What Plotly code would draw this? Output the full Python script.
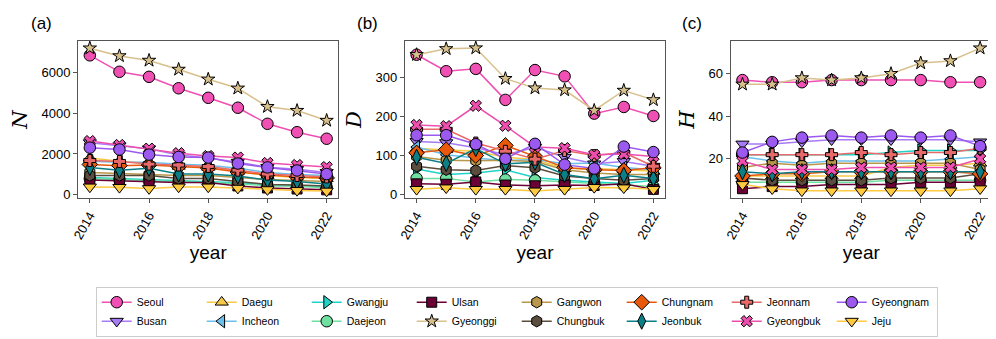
import plotly.graph_objects as go
from plotly.subplots import make_subplots

years = [2014, 2015, 2016, 2017, 2018, 2019, 2020, 2021, 2022]
regions = ["Seoul", "Busan", "Daegu", "Incheon", "Gwangju", "Daejeon", "Ulsan", "Gyeonggi",
           "Gangwon", "Chungbuk", "Chungnam", "Jeonbuk", "Jeonnam", "Gyeongbuk", "Gyeongnam", "Jeju"]

N_vals = {
    "Seoul":     [6820, 6015, 5770, 5210, 4745, 4260, 3475, 3065, 2745],
    "Busan":     [2550, 2400, 2250, 1950, 1800, 1600, 1350, 1250, 1100],
    "Daegu":     [1800, 1650, 1550, 1400, 1350, 1150, 950, 850, 800],
    "Incheon":   [1650, 1600, 1600, 1500, 1450, 1300, 1100, 1000, 950],
    "Gwangju":   [850, 800, 780, 700, 650, 600, 500, 450, 400],
    "Daejeon":   [800, 750, 700, 650, 600, 550, 450, 420, 350],
    "Ulsan":     [730, 690, 640, 610, 610, 440, 340, 290, 250],
    "Gyeonggi":  [7170, 6790, 6570, 6130, 5650, 5210, 4310, 4120, 3635],
    "Gangwon":   [1100, 1050, 1000, 950, 950, 850, 750, 700, 650],
    "Chungbuk":  [950, 950, 950, 800, 800, 660, 510, 480, 440],
    "Chungnam":  [1490, 1430, 1460, 1390, 1310, 1120, 980, 880, 830],
    "Jeonbuk":   [1340, 1210, 1300, 1020, 1020, 920, 730, 660, 540],
    "Jeonnam":   [1680, 1635, 1505, 1460, 1390, 1210, 1020, 950, 880],
    "Gyeongbuk": [2630, 2440, 2260, 2040, 1900, 1825, 1560, 1460, 1360],
    "Gyeongnam": [2310, 2220, 1970, 1855, 1825, 1535, 1345, 1195, 1020],
    "Jeju":      [390, 370, 310, 390, 390, 330, 260, 220, 190],
}

D_vals = {
    "Seoul":     [357, 315, 321, 242, 318, 302, 207, 224, 201],
    "Busan":     [136, 133, 120, 102, 121, 96, 79, 85, 73],
    "Daegu":     [118, 115, 111, 96, 90, 67, 67, 64, 60],
    "Incheon":   [122, 102, 94, 87, 90, 79, 81, 70, 64],
    "Gwangju":   [66, 52, 56, 64, 44, 37, 33, 29, 37],
    "Daejeon":   [42, 42, 33, 39, 37, 33, 29, 25, 21],
    "Ulsan":     [28, 27, 33, 25, 23, 25, 24, 28, 14],
    "Gyeonggi":  [357, 372, 374, 296, 272, 267, 215, 266, 242],
    "Gangwon":   [98, 88, 87, 88, 85, 64, 56, 52, 52],
    "Chungbuk":  [73, 64, 62, 75, 69, 48, 42, 37, 42],
    "Chungnam":  [107, 115, 100, 126, 98, 70, 64, 62, 69],
    "Jeonbuk":   [96, 80, 118, 79, 83, 52, 41, 50, 42],
    "Jeonnam":   [167, 167, 132, 111, 91, 113, 100, 108, 73],
    "Gyeongbuk": [178, 175, 227, 176, 122, 119, 102, 104, 98],
    "Gyeongnam": [152, 152, 129, 92, 130, 77, 67, 123, 109],
    "Jeju":      [14, 18, 14, 14, 10, 14, 19, 18, 14],
}

H_vals = {
    "Seoul":     [57, 56, 56, 57, 57, 57, 57, 56, 56],
    "Busan":     [27, 27, 28, 29, 29, 29, 29, 29, 28],
    "Daegu":     [12, 12, 12, 12, 12, 16, 17, 17, 18],
    "Incheon":   [21, 19, 18, 19, 19, 19, 19, 20, 21],
    "Gwangju":   [22, 22, 22, 22, 22, 23, 24, 24, 24],
    "Daejeon":   [9, 9, 9, 9, 9, 10, 10, 10, 10],
    "Ulsan":     [6, 7, 7, 8, 8, 8, 9, 9, 9],
    "Gyeonggi":  [55, 55, 58, 57, 58, 60, 65, 66, 72],
    "Gangwon":   [16, 18, 17, 18, 18, 18, 18, 18, 15],
    "Chungbuk":  [11, 10, 10, 10, 10, 11, 11, 11, 13],
    "Chungnam":  [12, 13, 13, 14, 14, 14, 14, 14, 13],
    "Jeonbuk":   [14, 13, 14, 14, 14, 14, 14, 14, 14],
    "Jeonnam":   [22, 22, 22, 22, 23, 22, 23, 23, 25],
    "Gyeongbuk": [19, 15, 15, 15, 16, 16, 16, 16, 20],
    "Gyeongnam": [23, 28, 30, 31, 30, 31, 30, 31, 26],
    "Jeju":      [8, 6, 5, 5, 5, 5, 5, 5, 6],
}

colors = {
    "Seoul": "#f04fb3", "Busan": "#a77bf3", "Daegu": "#f7c948", "Incheon": "#6cbfea",
    "Gwangju": "#1fd3c6", "Daejeon": "#6fe0a0", "Ulsan": "#6a0035", "Gyeonggi": "#d8c08c",
    "Gangwon": "#b8964a", "Chungbuk": "#5b4d3e", "Chungnam": "#e8590c", "Jeonbuk": "#0b7f86",
    "Jeonnam": "#e86a6a", "Gyeongbuk": "#ee4fae", "Gyeongnam": "#9b59f0", "Jeju": "#ffc940",
}
symbols = {
    "Seoul": "circle", "Busan": "triangle-down", "Daegu": "triangle-up", "Incheon": "triangle-left",
    "Gwangju": "triangle-right", "Daejeon": "circle", "Ulsan": "square", "Gyeonggi": "star",
    "Gangwon": "hexagon", "Chungbuk": "hexagon", "Chungnam": "diamond", "Jeonbuk": "diamond-tall",
    "Jeonnam": "cross", "Gyeongbuk": "x", "Gyeongnam": "circle", "Jeju": "triangle-down",
}
sizes = {"Gyeonggi": 10, "Ulsan": 10, "Jeonnam": 10, "Gyeongbuk": 10, "Chungnam": 12}
# legend order: matplotlib fills columns; plotly fills rows
legend_rank = {
    "Seoul": 1, "Daegu": 2, "Gwangju": 3, "Ulsan": 4, "Gangwon": 5, "Chungnam": 6, "Jeonnam": 7, "Gyeongnam": 8,
    "Busan": 9, "Incheon": 10, "Daejeon": 11, "Gyeonggi": 12, "Chungbuk": 13, "Jeonbuk": 14, "Gyeongbuk": 15, "Jeju": 16,
}

panels = [("N", N_vals), ("D", D_vals), ("H", H_vals)]
y_ranges = [[-150, 7520], [-8, 392], [1.65, 75.35]]
y_ticks = [[0, 2000, 4000, 6000], [0, 100, 200, 300], [20, 40, 60]]
panel_labels = ["(a)", "(b)", "(c)"]

fig = make_subplots(rows=1, cols=3)

for ci, (ylab, vals) in enumerate(panels):
    for r in regions:
        fig.add_trace(go.Scatter(
            x=years, y=vals[r], name=r, mode="lines+markers",
            line=dict(color=colors[r], width=1.5),
            marker=dict(symbol=symbols[r], size=sizes.get(r, 11.5), color=colors[r],
                        line=dict(color="black", width=1)),
            showlegend=(ci == 0), legendrank=legend_rank[r],
        ), row=1, col=ci + 1)

domains = [[0.0, 0.285], [0.3575, 0.6425], [0.714, 1.0]]
font_main = "Liberation Sans, Arial, sans-serif"
for ci in range(3):
    xa = "xaxis" if ci == 0 else f"xaxis{ci + 1}"
    ya = "yaxis" if ci == 0 else f"yaxis{ci + 1}"
    fig.layout[xa].update(
        domain=domains[ci], range=[2013.6, 2022.4], tickvals=[2014, 2016, 2018, 2020, 2022],
        tickangle=-60, showgrid=False, zeroline=False, showline=True, mirror=True,
        linecolor="#555", linewidth=1, ticks="outside", ticklen=4, tickcolor="#555",
        tickfont=dict(size=13, color="black", family=font_main),
        title=dict(text="year", font=dict(size=19, color="black", family=font_main), standoff=4),
    )
    fig.layout[ya].update(
        range=y_ranges[ci], tickvals=y_ticks[ci], showgrid=False, zeroline=False,
        showline=True, mirror=True, linecolor="#555", linewidth=1, ticks="outside",
        ticklen=4, tickcolor="#555", tickfont=dict(size=13, color="black", family=font_main),
        title=dict(text=f"<i>{panels[ci][0]}</i>",
                   font=dict(size=21, color="black", family="DejaVu Serif, serif"), standoff=8),
    )

label_x = [-0.054, 0.303, 0.659]
for ci in range(3):
    fig.add_annotation(text=panel_labels[ci], xref="paper", yref="paper", x=label_x[ci], y=1.11,
                       xanchor="left", yanchor="middle", showarrow=False,
                       font=dict(size=17, color="black", family=font_main))

fig.update_layout(
    width=996, height=339,
    margin=dict(l=62, r=11, t=33, b=131),
    paper_bgcolor="white", plot_bgcolor="white",
    showlegend=True,
    legend=dict(orientation="h", x=0.48, xanchor="center", y=-0.565, yanchor="top",
                entrywidth=60, itemwidth=30, bordercolor="#cccccc", borderwidth=1,
                font=dict(size=10.5, color="black", family=font_main), tracegroupgap=0,
                traceorder="normal"),
)

fig.write_html("out.html")
